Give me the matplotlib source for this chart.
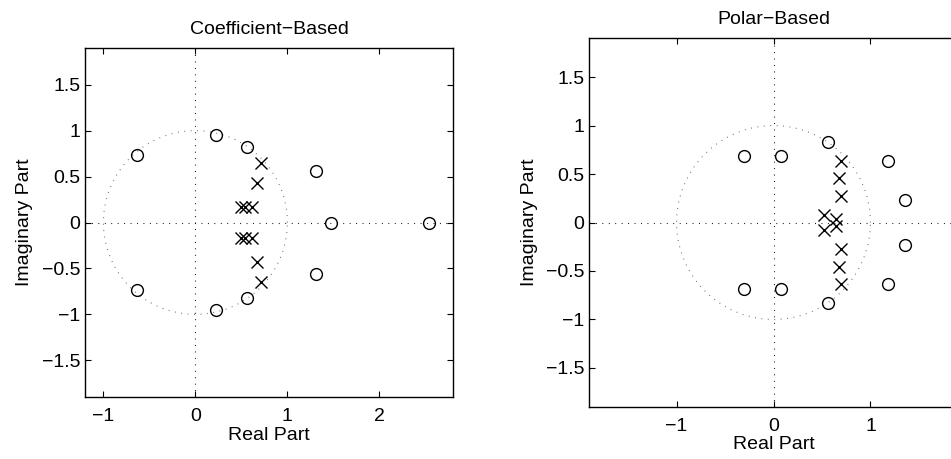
import numpy as np
import matplotlib
matplotlib.use('Agg')
import matplotlib.pyplot as plt

plt.rcParams['font.family'] = ['Liberation Sans', 'DejaVu Sans']
plt.rcParams['font.size'] = 14

# coefficient-based design: zeros and poles
coef_zeros_re = [-0.64, -0.64, 0.225, 0.225, 0.565, 0.565, 1.307, 1.307, 1.475, 2.542]
coef_zeros_im = [0.73, -0.73, 0.958, -0.958, 0.824, -0.824, 0.565, -0.565, 0.0, 0.0]
coef_poles_re = [0.716, 0.716, 0.672, 0.672, 0.62, 0.62, 0.535, 0.535, 0.50, 0.50]
coef_poles_im = [0.644, -0.644, 0.435, -0.435, 0.164, -0.164, 0.164, -0.164, 0.164, -0.164]

# polar-based design: zeros and poles
polar_zeros_re = [-0.306, -0.306, 0.076, 0.076, 0.56, 0.56, 1.186, 1.186, 1.357, 1.357]
polar_zeros_im = [0.681, -0.681, 0.681, -0.681, 0.826, -0.826, 0.631, -0.631, 0.228, -0.228]
polar_poles_re = [0.698, 0.698, 0.68, 0.68, 0.698, 0.698, 0.52, 0.52, 0.64, 0.64]
polar_poles_im = [0.638, -0.638, 0.462, -0.462, 0.274, -0.274, 0.08, -0.08, 0.036, -0.036]

yticks = [-1.5, -1, -0.5, 0, 0.5, 1, 1.5]
ytick_labels = ['\u22121.5', '\u22121', '\u22120.5', '0', '0.5', '1', '1.5']


def zplane(ax, zr, zi, pr, pi, xlim, xticks, xticklabels, title):
    t = np.linspace(0, 2 * np.pi, 400)
    ax.plot(np.cos(t), np.sin(t), color='0.4', lw=0.8, ls=(0, (0.8, 5)))
    ax.axhline(0, color='k', lw=0.8, ls=(0, (0.8, 5)))
    ax.axvline(0, color='k', lw=0.8, ls=(0, (0.8, 5)))
    ax.plot(zr, zi, 'o', ms=8.5, mfc='none', mec='k', mew=1.0)
    ax.plot(pr, pi, 'x', ms=8.5, color='k', mew=1.0)
    ax.set_xlim(xlim)
    ax.set_ylim(-1.9, 1.9)
    ax.set_xticks(xticks)
    ax.set_xticklabels(xticklabels)
    ax.set_yticks(yticks)
    ax.set_yticklabels(ytick_labels)
    ax.tick_params(direction='in', top=True, right=True, length=4, width=0.8)
    ax.tick_params(axis='x', pad=8)
    for s in ax.spines.values():
        s.set_linewidth(1.0)
    ax.set_xlabel('Real Part', labelpad=1)
    ax.set_ylabel('Imaginary Part', labelpad=6)
    ax.set_title(title, pad=10, fontsize=14)


fig = plt.figure(figsize=(9.51, 4.59), dpi=100)

ax1 = fig.add_axes([85 / 951, 62 / 459, 368 / 951, 349 / 459])
zplane(ax1, coef_zeros_re, coef_zeros_im, coef_poles_re, coef_poles_im,
       (-1.2, 2.8), [-1, 0, 1, 2], ['\u22121', '0', '1', '2'], 'Coefficient\u2212Based')

ax2 = fig.add_axes([589.3 / 951, 52.3 / 459, 368.4 / 951, 368.4 / 459])
zplane(ax2, polar_zeros_re, polar_zeros_im, polar_poles_re, polar_poles_im,
       (-1.9, 1.9), [-1, 0, 1], ['\u22121', '0', '1'], 'Polar\u2212Based')

fig.savefig('out.png', dpi=100)
